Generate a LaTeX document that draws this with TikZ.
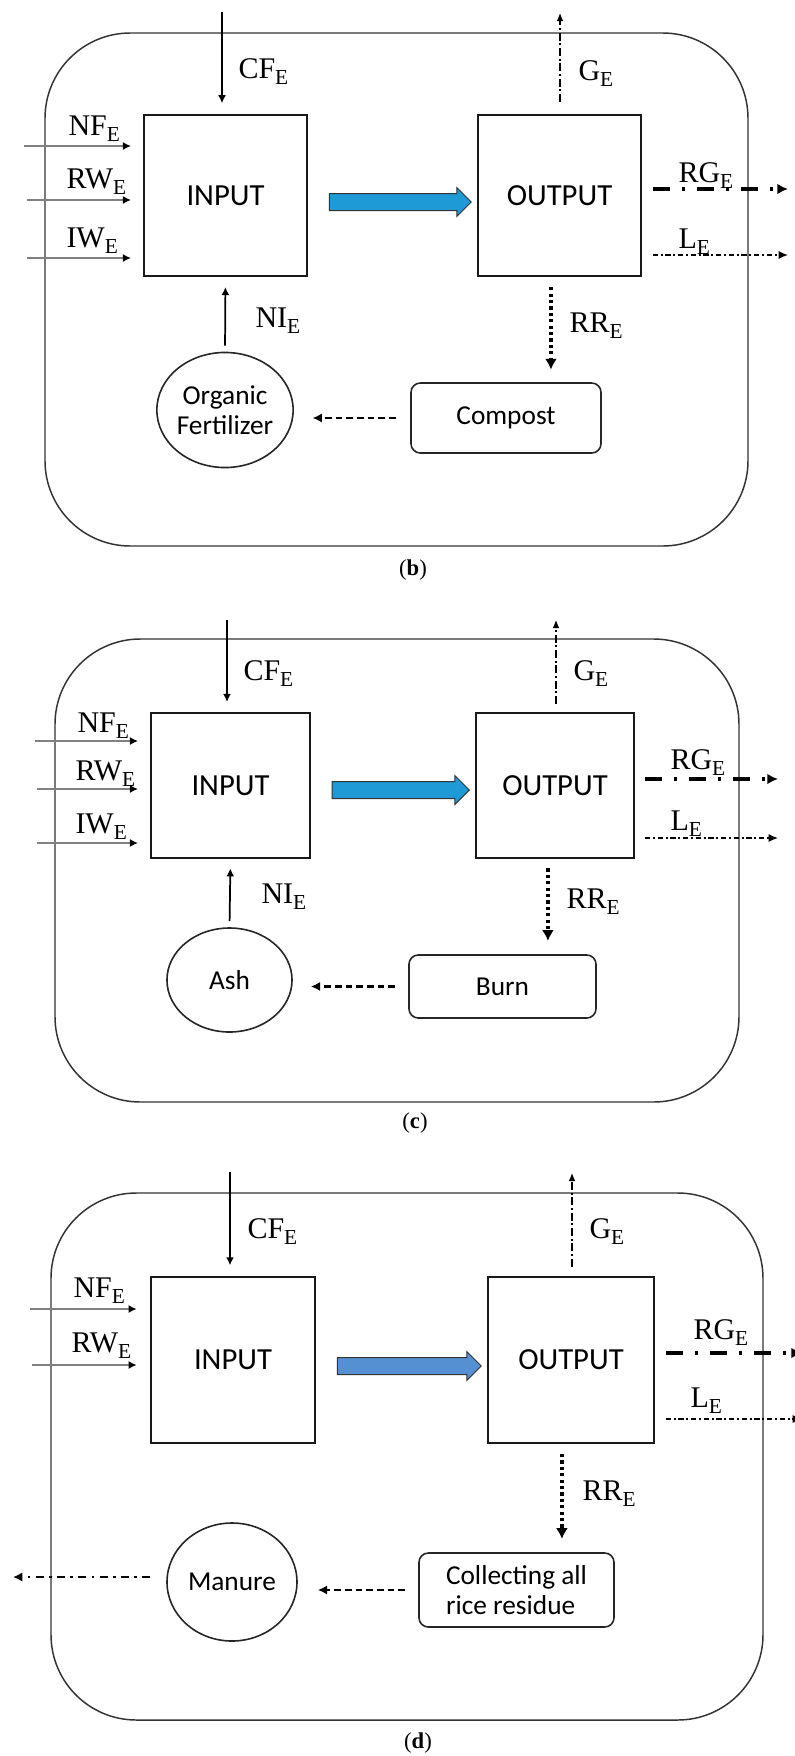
\documentclass[tikz,border=0pt]{standalone}
\usepackage{fontspec}
\setmainfont{Liberation Serif}
\newfontfamily\boxfont{Carlito}
\usetikzlibrary{arrows.meta,shapes.geometric,shapes.arrows}

\definecolor{flowblue}{RGB}{30,155,215}
\definecolor{flowblueD}{RGB}{85,145,210}
\newcommand{\subE}{\raisebox{-4.5pt}{\fontsize{16}{16}\selectfont E}}

\tikzset{every picture/.style={line width=0.75pt}}
\tikzset{
  frame/.style={draw=black!80, line width=1.1pt, rounded corners=64pt},
  procbox/.style={draw=black!90, line width=1.6pt, inner sep=0pt, font=\boxfont\fontsize{23}{27}\selectfont},
  pool/.style={ellipse, draw=black!85, line width=1.2pt, inner sep=0pt, align=center, font=\boxfont\fontsize{20.5}{22.5}\selectfont},
  treat/.style={rectangle, rounded corners=7pt, draw=black!85, line width=1.2pt, inner sep=0pt, align=left, font=\boxfont\fontsize{20.5}{22.5}\selectfont},
  lbl/.style={anchor=base west, inner sep=0.75pt, font=\fontsize{22.5}{26}\selectfont},
  figcap/.style={inner sep=0.75pt, font=\fontsize{17}{20}\selectfont},
  bluearr/.style={single arrow, draw=black!80, line width=0.75pt, inner xsep=0pt, inner ysep=6pt, single arrow head extend=4.5pt, single arrow tip angle=90},
  solidflow/.style={-{Latex[length=6pt,width=6pt]}, line width=1.3pt},
  sideflow/.style={-{Latex[length=6pt,width=6pt,black]}, draw=black!50, line width=1pt},
  gasflow/.style={-{Latex[length=6pt,width=5pt]}, line width=0.8pt, dash pattern=on 6pt off 2pt on 1.5pt off 2pt},
  grainflow/.style={-{Latex[length=8pt,width=8pt]}, line width=3pt, dash pattern=on 12.75pt off 9pt on 2.25pt off 9pt},
  lossflow/.style={-{Latex[length=7pt,width=6pt]}, line width=1pt, dash pattern=on 4pt off 2pt on 1.5pt off 2pt},
  residueflow/.style={-{Latex[length=8pt,width=9pt]}, line width=3pt, dash pattern=on 2.4pt off 2.4pt},
  returnflow/.style={-{Latex[length=7pt,width=7pt]}, line width=1.6pt, dash pattern=on 5pt off 3pt},
  exportflow/.style={-{Latex[length=7pt,width=7pt]}, line width=1.6pt, dash pattern=on 6pt off 4pt on 2pt off 4pt},
}

\begin{document}
\begin{tikzpicture}[x=0.75pt,y=0.75pt,yscale=-1,xscale=1]
\useasboundingbox (0,0) rectangle (795,1756);

%%%%%%%%%%%%%%%%%%%% panel (b)
%Shape: Rounded Rect
\draw[frame] (45,33) rectangle (748,546);
%Shape: Square
\node[procbox, minimum width=122.3pt, minimum height=120.8pt] (inB) at (225.5,195.5) {INPUT};
%Shape: Square
\node[procbox, minimum width=122.3pt, minimum height=120.8pt] (outB) at (559.5,195.5) {OUTPUT};
%Shape: Ellipse
\node[pool, minimum width=95.3pt, minimum height=86.3pt] (orgB) at (225,410) {Organic\\Fertilizer};
%Rounded Rect
\node[treat, minimum width=142.5pt, minimum height=52.5pt] (compB) at (506,418) {Compost};
%Right Arrow
\node[bluearr, fill=flowblue, minimum height=106.5pt] (flowB) at (396,202) {};

\coordinate (cfB) at (222,12);
\coordinate (nfB) at (24,146);
\coordinate (rwB) at (27,200);
\coordinate (iwB) at (27,258);
\coordinate (gB) at (560,13);
\coordinate (rgB) at (788,189);
\coordinate (lB) at (788,255);
%Straight Lines
\draw[solidflow, shorten >=8pt] (cfB) -- (cfB |- inB.north);
\draw[sideflow, shorten >=9pt] (nfB) -- (nfB -| inB.west);
\draw[sideflow, shorten >=9pt] (rwB) -- (rwB -| inB.west);
\draw[sideflow, shorten >=9pt] (iwB) -- (iwB -| inB.west);
\draw[gasflow, shorten <=9pt] (gB |- outB.north) -- (gB);
\draw[grainflow, shorten <=8pt] (rgB -| outB.east) -- (rgB);
\draw[lossflow, shorten <=8pt] (lB -| outB.east) -- (lB);
\draw[solidflow, shorten <=4.5pt, shorten >=7.5pt] (orgB.north) -- (inB.south);
\draw[residueflow, shorten <=7.5pt, shorten >=9.5pt] ([xshift=-6.4pt]outB.south) -- ([xshift=-6.4pt]outB.south |- compB.north);
\draw[returnflow, shorten <=11pt, shorten >=14pt] (compB.west) -- (compB.west -| orgB.east);

% Text Node
\node[lbl] (cfBl) at (237,78) {CF\subE};
\node[lbl] (nfBl) at (67,135) {NF\subE};
\node[lbl] (rwBl) at (65,188) {RW\subE};
\node[lbl] (iwBl) at (65,247) {IW\subE};
\node[lbl] (gBl) at (577,80) {G\subE};
\node[lbl] (rgBl) at (677,182) {RG\subE};
\node[lbl] (lBl) at (677,248) {L\subE};
\node[lbl] (niBl) at (254,327) {NI\subE};
\node[lbl] (rrBl) at (568,332) {RR\subE};
\node[figcap] (capB) at (413,570) {(\textbf{b})};

%%%%%%%%%%%%%%%%%%%% panel (c)
%Shape: Rounded Rect
\draw[frame] (55,639) rectangle (739,1102);
%Shape: Square
\node[procbox, minimum width=119.3pt, minimum height=108.8pt] (inC) at (230.5,785.5) {INPUT};
%Shape: Square
\node[procbox, minimum width=118.5pt, minimum height=108.8pt] (outC) at (555,785.5) {OUTPUT};
%Shape: Ellipse
\node[pool, minimum width=93.8pt, minimum height=78pt] (ashC) at (229.5,980) {Ash};
%Rounded Rect
\node[treat, minimum width=140.3pt, minimum height=47.3pt] (burnC) at (502.5,986.5) {Burn};
%Right Arrow
\node[bluearr, fill=flowblue, minimum height=102.8pt] (flowC) at (396.5,790) {};

\coordinate (cfC) at (227,620);
\coordinate (nfC) at (35,741);
\coordinate (rwC) at (37,789);
\coordinate (iwC) at (37,843);
\coordinate (gC) at (556,620);
\coordinate (rgC) at (778,779);
\coordinate (lC) at (778,838);
%Straight Lines
\draw[solidflow, shorten >=7.5pt] (cfC) -- (cfC |- inC.north);
\draw[sideflow, shorten >=9pt] (nfC) -- (nfC -| inC.west);
\draw[sideflow, shorten >=9pt] (rwC) -- (rwC -| inC.west);
\draw[sideflow, shorten >=9pt] (iwC) -- (iwC -| inC.west);
\draw[gasflow, shorten <=6pt] (gC |- outC.north) -- (gC);
\draw[grainflow, shorten <=7.5pt] (rgC -| outC.east) -- (rgC);
\draw[lossflow, shorten <=7.5pt] (lC -| outC.east) -- (lC);
\draw[solidflow, shorten <=4.5pt, shorten >=7pt] (ashC.north) -- (inC.south);
\draw[residueflow, shorten <=7pt, shorten >=10pt] ([xshift=-5.3pt]outC.south) -- ([xshift=-5.3pt]outC.south |- burnC.north);
\draw[returnflow, shorten <=10pt, shorten >=13.5pt] (burnC.west) -- (burnC.west -| ashC.east);

% Text Node
\node[lbl] (cfCl) at (242,680) {CF\subE};
\node[lbl] (nfCl) at (76,732) {NF\subE};
\node[lbl] (rwCl) at (74,780) {RW\subE};
\node[lbl] (iwCl) at (74,833) {IW\subE};
\node[lbl] (gCl) at (572,680) {G\subE};
\node[lbl] (rgCl) at (669,769) {RG\subE};
\node[lbl] (lCl) at (669,830) {L\subE};
\node[lbl] (niCl) at (260,903) {NI\subE};
\node[lbl] (rrCl) at (565,908) {RR\subE};
\node[figcap] (capC) at (415,1123) {(\textbf{c})};

%%%%%%%%%%%%%%%%%%%% panel (d)
%Shape: Rounded Rect
\draw[frame] (51,1193) rectangle (763,1720);
%Shape: Square
\node[procbox, minimum width=123pt, minimum height=124.5pt] (inD) at (233,1360) {INPUT};
%Shape: Square
\node[procbox, minimum width=124.5pt, minimum height=124.5pt] (outD) at (571,1360) {OUTPUT};
%Shape: Ellipse
\node[pool, minimum width=97.5pt, minimum height=88.5pt] (manD) at (232,1582) {Manure};
%Rounded Rect
\node[treat, minimum width=146.3pt, minimum height=55.5pt] (colD) at (516.5,1590) {Collecting all\\rice residue};
%Right Arrow
\node[bluearr, fill=flowblueD, minimum height=108pt] (flowD) at (405,1366) {};

\coordinate (cfD) at (230,1172);
\coordinate (nfD) at (30,1309);
\coordinate (rwD) at (32,1365);
\coordinate (gD) at (572,1173);
\coordinate (rgD) at (802,1353);
\coordinate (lD) at (802,1419);
\coordinate (exD) at (13,1577);
%Straight Lines
\draw[solidflow, shorten >=8pt] (cfD) -- (cfD |- inD.north);
\draw[sideflow, shorten >=10pt] (nfD) -- (nfD -| inD.west);
\draw[sideflow, shorten >=10pt] (rwD) -- (rwD -| inD.west);
\draw[gasflow, shorten <=7pt] (gD |- outD.north) -- (gD);
\draw[grainflow, shorten <=8pt] (rgD -| outD.east) -- (rgD);
\draw[lossflow, shorten <=8pt] (lD -| outD.east) -- (lD);
\draw[residueflow, shorten <=7.5pt, shorten >=10pt] ([xshift=-6.8pt]outD.south) -- ([xshift=-6.8pt]outD.south |- colD.north);
\draw[returnflow, shorten <=10pt, shorten >=15pt] (colD.west) -- (colD.west -| manD.east);
\draw[exportflow, shorten <=12pt] (exD -| manD.west) -- (exD);

% Text Node
\node[lbl] (cfDl) at (246,1238) {CF\subE};
\node[lbl] (nfDl) at (72,1297) {NF\subE};
\node[lbl] (rwDl) at (70,1352) {RW\subE};
\node[lbl] (gDl) at (588,1238) {G\subE};
\node[lbl] (rgDl) at (692,1339) {RG\subE};
\node[lbl] (lDl) at (689,1407) {L\subE};
\node[lbl] (rrDl) at (581,1500) {RR\subE};
\node[figcap] (capD) at (418,1743) {(\textbf{d})};

\end{tikzpicture}
\end{document}
